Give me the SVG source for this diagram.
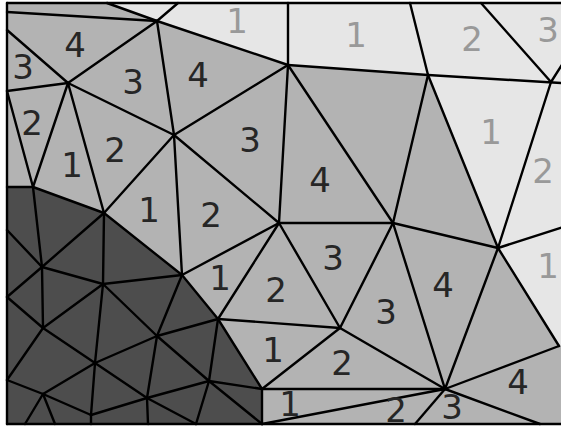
<svg xmlns="http://www.w3.org/2000/svg" width="561" height="427" viewBox="0 0 561 427">
<style>
.e line{stroke:#000;stroke-width:2.4;stroke-linecap:round}
text{font-family:"DejaVu Sans",sans-serif;font-size:34px;text-anchor:middle}
.d{fill:#262626}
.l{fill:#999999}
</style>
<rect x="0" y="0" width="561" height="427" fill="#ffffff"/>
<g id="fills">
<rect x="7" y="3" width="560" height="421" fill="#b3b3b3"/>
<polygon points="107,3 561,3 561,346 559,346 498,248 428,75 288,65 157,21" fill="#e6e6e6"/>
<polygon points="7,187 33,187 104,213 182,275 218,319 262,389 262,424 7,424" fill="#4d4d4d"/>
</g>
<g id="connectors" class="e">
<line x1="7" y1="12" x2="157" y2="21"/>
<line x1="107" y1="3" x2="157" y2="21"/>
<line x1="178" y1="3" x2="157" y2="21"/>
<line x1="157" y1="21" x2="288" y2="65"/>
<line x1="157" y1="21" x2="68" y2="83"/>
<line x1="157" y1="21" x2="174" y2="135"/>
<line x1="7" y1="30" x2="68" y2="83"/>
<line x1="7" y1="91" x2="68" y2="83"/>
<line x1="68" y1="83" x2="174" y2="135"/>
<line x1="68" y1="83" x2="33" y2="187"/>
<line x1="68" y1="83" x2="104" y2="213"/>
<line x1="7" y1="91" x2="33" y2="187"/>
<line x1="7" y1="187" x2="33" y2="187"/>
<line x1="33" y1="187" x2="104" y2="213"/>
<line x1="104" y1="213" x2="174" y2="135"/>
<line x1="104" y1="213" x2="182" y2="275"/>
<line x1="174" y1="135" x2="182" y2="275"/>
<line x1="174" y1="135" x2="288" y2="65"/>
<line x1="174" y1="135" x2="279" y2="223"/>
<line x1="288" y1="3" x2="288" y2="65"/>
<line x1="288" y1="65" x2="428" y2="75"/>
<line x1="288" y1="65" x2="279" y2="223"/>
<line x1="288" y1="65" x2="393" y2="223"/>
<line x1="410" y1="3" x2="428" y2="75"/>
<line x1="428" y1="75" x2="561" y2="83"/>
<line x1="428" y1="75" x2="393" y2="223"/>
<line x1="428" y1="75" x2="498" y2="248"/>
<line x1="481" y1="3" x2="551" y2="82"/>
<line x1="551" y1="82" x2="563" y2="63"/>
<line x1="551" y1="82" x2="498" y2="248"/>
<line x1="498" y1="248" x2="563" y2="227"/>
<line x1="498" y1="248" x2="393" y2="223"/>
<line x1="498" y1="248" x2="445" y2="389"/>
<line x1="498" y1="248" x2="559" y2="346"/>
<line x1="559" y1="346" x2="445" y2="389"/>
<line x1="445" y1="389" x2="540" y2="424"/>
<line x1="445" y1="389" x2="415" y2="424"/>
<line x1="445" y1="389" x2="262" y2="424"/>
<line x1="445" y1="389" x2="262" y2="389"/>
<line x1="445" y1="389" x2="393" y2="223"/>
<line x1="445" y1="389" x2="340" y2="328"/>
<line x1="393" y1="223" x2="340" y2="328"/>
<line x1="393" y1="223" x2="279" y2="223"/>
<line x1="279" y1="223" x2="340" y2="328"/>
<line x1="279" y1="223" x2="218" y2="319"/>
<line x1="279" y1="223" x2="182" y2="275"/>
<line x1="182" y1="275" x2="218" y2="319"/>
<line x1="218" y1="319" x2="340" y2="328"/>
<line x1="340" y1="328" x2="262" y2="389"/>
<line x1="218" y1="319" x2="262" y2="389"/>
<line x1="262" y1="389" x2="262" y2="424"/>
<line x1="218" y1="319" x2="209" y2="381"/>
<line x1="209" y1="381" x2="262" y2="389"/>
<line x1="209" y1="381" x2="262" y2="424"/>
<line x1="209" y1="381" x2="196" y2="424"/>
<line x1="209" y1="381" x2="147" y2="398"/>
<line x1="209" y1="381" x2="157" y2="336"/>
<line x1="157" y1="336" x2="218" y2="319"/>
<line x1="157" y1="336" x2="182" y2="275"/>
<line x1="157" y1="336" x2="103" y2="284"/>
<line x1="157" y1="336" x2="95" y2="363"/>
<line x1="157" y1="336" x2="147" y2="398"/>
<line x1="103" y1="284" x2="182" y2="275"/>
<line x1="103" y1="284" x2="104" y2="213"/>
<line x1="103" y1="284" x2="42" y2="267"/>
<line x1="103" y1="284" x2="43" y2="328"/>
<line x1="103" y1="284" x2="95" y2="363"/>
<line x1="42" y1="267" x2="104" y2="213"/>
<line x1="42" y1="267" x2="33" y2="187"/>
<line x1="42" y1="267" x2="7" y2="230"/>
<line x1="42" y1="267" x2="7" y2="297"/>
<line x1="42" y1="267" x2="43" y2="328"/>
<line x1="43" y1="328" x2="7" y2="297"/>
<line x1="43" y1="328" x2="95" y2="363"/>
<line x1="43" y1="328" x2="7" y2="380"/>
<line x1="95" y1="363" x2="43" y2="394"/>
<line x1="95" y1="363" x2="91" y2="415"/>
<line x1="95" y1="363" x2="147" y2="398"/>
<line x1="43" y1="394" x2="7" y2="380"/>
<line x1="43" y1="394" x2="25" y2="424"/>
<line x1="43" y1="394" x2="55" y2="424"/>
<line x1="43" y1="394" x2="91" y2="415"/>
<line x1="91" y1="415" x2="91" y2="424"/>
<line x1="91" y1="415" x2="147" y2="398"/>
<line x1="147" y1="398" x2="148" y2="424"/>
<line x1="147" y1="398" x2="196" y2="424"/>
<line x1="7" y1="3" x2="563" y2="3"/>
<line x1="7" y1="3" x2="7" y2="424"/>
<line x1="7" y1="424" x2="563" y2="424"/>
</g>
<g id="labels">
<text class="d" x="75" y="57">4</text>
<text class="d" x="23" y="79">3</text>
<text class="d" x="133" y="94">3</text>
<text class="d" x="198" y="87">4</text>
<text class="d" x="32" y="135">2</text>
<text class="d" x="72" y="177">1</text>
<text class="d" x="115" y="162">2</text>
<text class="d" x="250" y="152">3</text>
<text class="d" x="320" y="192">4</text>
<text class="d" x="149" y="222">1</text>
<text class="d" x="211" y="227">2</text>
<text class="d" x="333" y="270">3</text>
<text class="d" x="220" y="290">1</text>
<text class="d" x="276" y="302">2</text>
<text class="d" x="386" y="324">3</text>
<text class="d" x="443" y="297">4</text>
<text class="d" x="273" y="362">1</text>
<text class="d" x="342" y="375">2</text>
<text class="d" x="518" y="394">4</text>
<text class="d" x="290" y="416">1</text>
<text class="d" x="396" y="422">2</text>
<text class="d" x="452" y="419">3</text>
<text class="l" x="237" y="33">1</text>
<text class="l" x="356" y="47">1</text>
<text class="l" x="472" y="51">2</text>
<text class="l" x="548" y="42">3</text>
<text class="l" x="491" y="144">1</text>
<text class="l" x="543" y="183">2</text>
<text class="l" x="548" y="278">1</text>
</g>
</svg>
